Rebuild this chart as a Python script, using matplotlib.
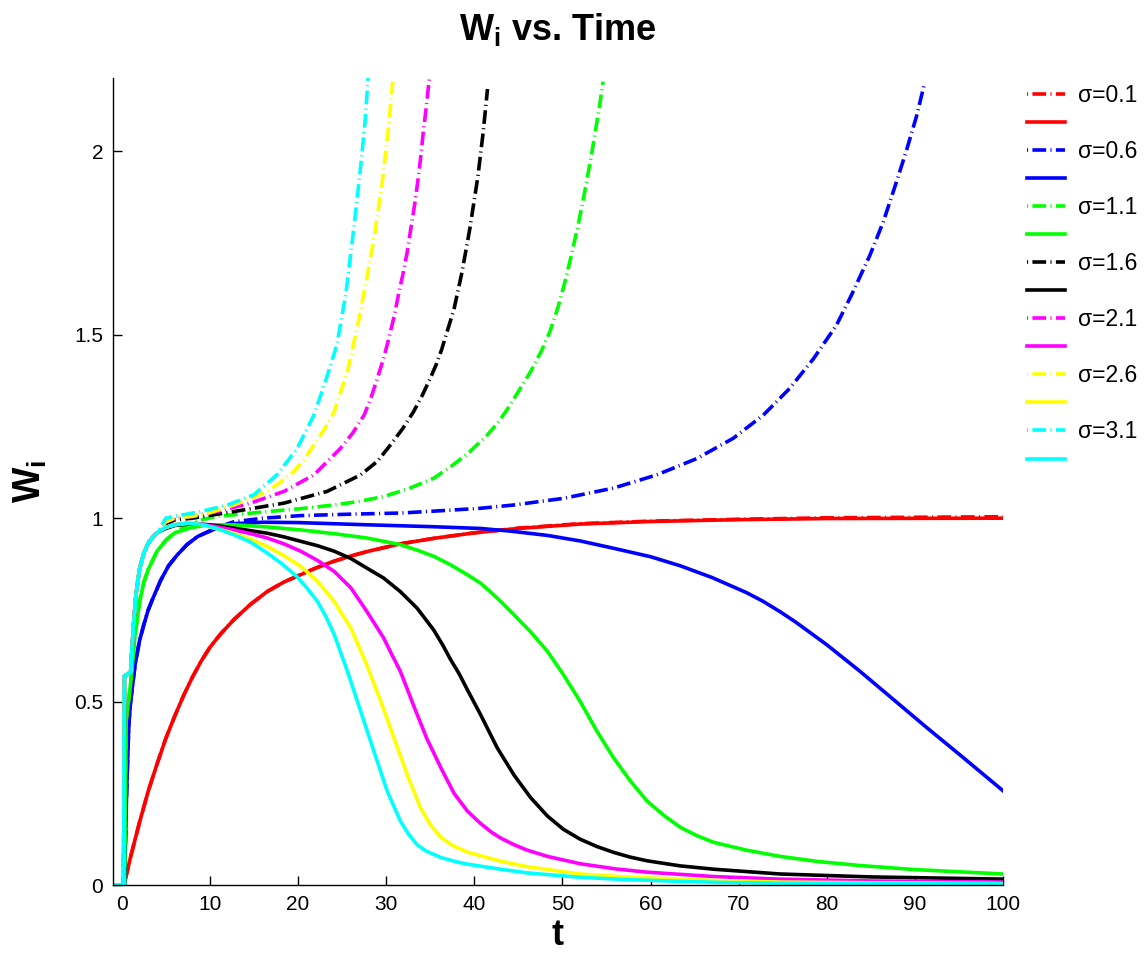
import matplotlib
matplotlib.use("Agg")
import matplotlib.pyplot as plt
import numpy as np

plt.rcParams['font.family'] = ['Liberation Sans', 'DejaVu Sans']
plt.rcParams['mathtext.fontset'] = 'custom'
plt.rcParams['mathtext.rm'] = 'Liberation Sans'
plt.rcParams['mathtext.bf'] = 'Liberation Sans:bold'
plt.rcParams['mathtext.it'] = 'Liberation Sans:italic'

# ---------------- data ----------------
sigmas = ["0.1", "0.6", "1.1", "1.6", "2.1", "2.6", "3.1"]
colors = ["#ff0000", "#0000ff", "#00ff00", "#000000", "#ff00ff", "#ffff00", "#00ffff"]

# shared initial rise
t_rise_fast = [-1, 0.2, 0.3, 1.0, 1.3, 1.6, 2.0, 2.5, 3.0, 3.5, 4.0]
w_rise_fast = [0, 0, 0.57, 0.58, 0.70, 0.79, 0.86, 0.905, 0.932, 0.948, 0.96]
t_rise_green = [-1, 0.3, 0.5, 1.0, 1.5, 2.0, 2.5, 3.0, 4.0, 5.0, 6.0]
w_rise_green = [0, 0, 0.45, 0.55, 0.68, 0.77, 0.825, 0.86, 0.91, 0.94, 0.96]
t_rise_blue = [-1, 0.3, 0.55, 0.8, 1.0, 1.5, 2.0, 2.5, 3.0, 3.5, 4.4, 5.3, 6.3, 7.4, 8.6]
w_rise_blue = [0, 0, 0.26, 0.44, 0.5, 0.6, 0.665, 0.71, 0.75, 0.78, 0.83, 0.87, 0.90, 0.928, 0.95]

# sigma = 0.1
t_red = [0.25, 1, 2, 3, 4, 5, 6, 7, 8, 9, 10, 11.2, 12.7, 14.6, 16.5, 18.4, 20.3, 22, 24, 26, 28, 31.6,
         35.4, 40, 45, 52, 60, 70, 80, 100]
w_red_solid = [0, 0.077, 0.17, 0.256, 0.33, 0.40, 0.46, 0.516, 0.566, 0.61, 0.648, 0.684, 0.723, 0.765,
               0.80, 0.826, 0.846, 0.864, 0.882, 0.897, 0.91, 0.93, 0.945, 0.96, 0.972, 0.984, 0.991, 0.996,
               0.999, 1.0]
w_red_dash = [0, 0.077, 0.17, 0.256, 0.33, 0.40, 0.46, 0.516, 0.566, 0.61, 0.648, 0.684, 0.723, 0.765,
              0.80, 0.826, 0.846, 0.864, 0.882, 0.897, 0.91, 0.93, 0.945, 0.96, 0.973, 0.985, 0.992, 0.997,
              1.001, 1.004]

# sigma = 0.6
t_blue_solid = [10.8, 12.7, 16, 20, 27.8, 35, 40.7, 44, 48.3, 52, 55.8, 60, 63.4, 67, 70.9, 72.8, 74.7,
                76.4, 78, 80, 83.8, 87.6, 91.3, 95.1, 100]
w_blue_solid = [0.973, 0.985, 0.989, 0.988, 0.982, 0.977, 0.972, 0.965, 0.953, 0.938, 0.918, 0.895, 0.87,
                0.838, 0.797, 0.773, 0.745, 0.718, 0.69, 0.655, 0.582, 0.505, 0.43, 0.355, 0.257]
t_blue_dash = [10.8, 12.7, 16, 20.3, 26, 31.6, 36, 40.7, 44.5, 50.1, 55.8, 60.7, 65.3, 69.4, 72.8, 75.8,
               78.5, 81.1, 82.8, 84.9, 86.4, 87.9, 89.1, 90.2, 91.1]
w_blue_dash = [0.975, 0.99, 1.0, 1.007, 1.011, 1.014, 1.02, 1.027, 1.036, 1.054, 1.082, 1.118, 1.163, 1.218,
               1.281, 1.354, 1.435, 1.526, 1.608, 1.717, 1.807, 1.916, 2.007, 2.097, 2.186]

# sigma = 1.1
t_green_solid = [8, 10, 12.7, 16.5, 20.3, 24, 27.8, 31.6, 33.5, 35.4, 37.3, 39.2, 40.7, 41.8, 43, 44.5,
                 46.4, 48.3, 50.1, 52, 53.9, 55.8, 57.7, 59.6, 61.5, 63.4, 65.3, 67.2, 70.9, 74.7, 79,
                 83.8, 90, 100]
w_green_solid = [0.975, 0.982, 0.982, 0.976, 0.968, 0.958, 0.946, 0.928, 0.913, 0.896, 0.873, 0.846, 0.823,
                 0.80, 0.773, 0.737, 0.69, 0.637, 0.574, 0.501, 0.42, 0.347, 0.284, 0.229, 0.19, 0.157,
                 0.134, 0.116, 0.095, 0.078, 0.064, 0.053, 0.042, 0.03]
t_green_dash = [8, 10.8, 16.5, 20.3, 24.1, 27, 29.7, 32.5, 35.4, 37.3, 39.2, 41.3, 42.6, 43.7, 45, 46.4,
                47.6, 48.6, 49.5, 50.3, 51.0, 51.7, 52.3, 52.8, 53.3, 53.7, 54.2, 54.6]
w_green_dash = [0.99, 1.005, 1.018, 1.026, 1.036, 1.046, 1.059, 1.08, 1.109, 1.14, 1.175, 1.222, 1.258, 1.295,
                1.345, 1.40, 1.455, 1.51, 1.575, 1.645, 1.715, 1.79, 1.86, 1.925, 1.99, 2.05, 2.12, 2.19]

# sigma = 1.6
t_black_solid = [5, 6, 8, 10, 12.7, 14.6, 16.5, 18.4, 20.3, 22.2, 24.1, 26, 27.8, 29.7, 31.6, 33.5, 35.4,
                 36.4, 37.3, 38.3, 39.2, 40.7, 42.6, 44.5, 46.4, 48.3, 50.1, 52, 53.9, 55.8, 57.7, 59.6,
                 63.4, 67.2, 74.7, 85, 100]
w_black_solid = [0.972, 0.98, 0.985, 0.982, 0.973, 0.966, 0.959, 0.949, 0.937, 0.925, 0.91, 0.89, 0.864,
                 0.837, 0.80, 0.755, 0.695, 0.655, 0.615, 0.575, 0.533, 0.465, 0.374, 0.30, 0.238, 0.188,
                 0.152, 0.125, 0.105, 0.089, 0.076, 0.066, 0.052, 0.043, 0.030, 0.022, 0.016]
t_black_dash = [5, 6, 8, 12.7, 18.4, 23.3, 27.1, 29, 30.5, 31.9, 33.1, 34.1, 35, 35.7, 36.3, 37.0, 37.7,
                38.6, 39.5, 40.4, 41.0, 41.5]
w_black_dash = [0.985, 0.995, 1.0, 1.018, 1.041, 1.073, 1.118, 1.155, 1.20, 1.245, 1.29, 1.335, 1.381, 1.42,
                1.46, 1.515, 1.57, 1.67, 1.79, 1.93, 2.05, 2.17]

# sigma = 2.1
t_mag_solid = [5, 6, 8, 10, 12.7, 14.6, 16.5, 18.4, 20.3, 22.2, 24.1, 26, 27.8, 28.7, 29.7, 30.6, 31.6,
               32.3, 33.1, 34.6, 35.4, 36.2, 37.7, 39.2, 40.7, 42, 43, 44.5, 46, 48.3, 52, 56, 59.6, 67.2,
               74.7, 85, 100]
w_mag_solid = [0.975, 0.982, 0.988, 0.98, 0.968, 0.958, 0.946, 0.93, 0.91, 0.885, 0.855, 0.81, 0.746, 0.712,
               0.674, 0.63, 0.583, 0.54, 0.49, 0.40, 0.36, 0.32, 0.25, 0.202, 0.168, 0.143, 0.128, 0.11,
               0.095, 0.078, 0.058, 0.044, 0.035, 0.023, 0.016, 0.011, 0.008]
t_mag_dash = [5, 6, 8, 10.8, 14.6, 18.4, 21.8, 24.8, 26.2, 27.5, 28.3, 29, 29.7, 30.3, 30.9, 31.4, 31.9,
              32.4, 32.8, 33.2, 33.6, 33.9, 34.2, 34.5, 34.9]
w_mag_dash = [0.99, 1.0, 1.005, 1.018, 1.041, 1.073, 1.118, 1.19, 1.232, 1.281, 1.33, 1.381, 1.435, 1.49,
              1.55, 1.61, 1.665, 1.727, 1.79, 1.85, 1.92, 1.98, 2.05, 2.11, 2.20]

# sigma = 2.6
t_yel_solid = [5, 6, 8, 10, 12.7, 14.6, 16.5, 18.4, 20.3, 22.2, 24.1, 26, 27.8, 29.4, 30.9, 32.4, 33.9,
               35, 36.2, 37.6, 39.2, 40.7, 43, 46, 52, 57, 63.4, 68, 74.7, 85, 100]
w_yel_solid = [0.975, 0.982, 0.988, 0.976, 0.959, 0.943, 0.923, 0.898, 0.869, 0.828, 0.773, 0.70, 0.60,
               0.50, 0.40, 0.30, 0.21, 0.165, 0.13, 0.107, 0.09, 0.08, 0.065, 0.05, 0.03, 0.022, 0.016,
               0.012, 0.008, 0.006, 0.004]
t_yel_dash = [5, 6, 8, 10, 12.7, 14.6, 16.5, 18, 19.5, 20.7, 21.8, 23, 24.1, 25.6, 26.7, 27.8, 28.8,
              29.6, 30.2, 30.75]
w_yel_dash = [0.99, 1.0, 1.005, 1.015, 1.036, 1.053, 1.073, 1.098, 1.127, 1.16, 1.20, 1.243, 1.29, 1.40,
              1.517, 1.653, 1.79, 1.925, 2.05, 2.19]

# sigma = 3.1
t_cyan_solid = [5, 6, 7.4, 9, 10.8, 12.7, 14.6, 16.5, 18.2, 19.9, 21, 22.2, 23.2, 24.1, 25.6, 27.1, 28.6,
                30.1, 31.6, 32.5, 33.5, 34.5, 36.2, 38, 39.2, 43, 46, 52, 57, 63.4, 68, 74.7, 85, 100]
w_cyan_solid = [0.975, 0.982, 0.986, 0.983, 0.972, 0.955, 0.935, 0.905, 0.875, 0.84, 0.81, 0.773, 0.73,
                0.683, 0.583, 0.474, 0.365, 0.257, 0.175, 0.14, 0.11, 0.093, 0.075, 0.063, 0.057, 0.043,
                0.033, 0.021, 0.015, 0.01, 0.007, 0.005, 0.004, 0.003]
t_cyan_dash = [5, 6, 8.95, 12, 15, 17.6, 19.9, 21.8, 23.1, 24.4, 25.4, 26.1, 26.7, 27.2, 27.6, 27.95]
w_cyan_dash = [1.0, 1.005, 1.018, 1.036, 1.064, 1.118, 1.19, 1.281, 1.372, 1.472, 1.608, 1.744, 1.87, 1.98,
               2.08, 2.2]

series = [
    (t_red, w_red_dash, t_red, w_red_solid),
    (t_rise_blue + t_blue_dash, w_rise_blue + w_blue_dash, t_rise_blue + t_blue_solid, w_rise_blue + w_blue_solid),
    (t_rise_green + t_green_dash, w_rise_green + w_green_dash,
     t_rise_green + t_green_solid, w_rise_green + w_green_solid),
    (t_rise_fast + t_black_dash, w_rise_fast + w_black_dash, t_rise_fast + t_black_solid, w_rise_fast + w_black_solid),
    (t_rise_fast + t_mag_dash, w_rise_fast + w_mag_dash, t_rise_fast + t_mag_solid, w_rise_fast + w_mag_solid),
    (t_rise_fast + t_yel_dash, w_rise_fast + w_yel_dash, t_rise_fast + t_yel_solid, w_rise_fast + w_yel_solid),
    (t_rise_fast + t_cyan_dash, w_rise_fast + w_cyan_dash, t_rise_fast + t_cyan_solid, w_rise_fast + w_cyan_solid),
]

# ---------------- figure ----------------
W, H = 1148, 955
fig = plt.figure(figsize=(W / 100, H / 100), dpi=100)
ax = fig.add_axes([113 / W, 1 - 885 / H, (1003 - 113) / W, (885 - 78) / H])

LW = 2.6
DASH = (3.8, 1.2, 0.3, 1.2)
handles, labels = [], []
for (s, c, (td, wd, ts, ws)) in zip(sigmas, colors, series):
    ld, = ax.plot(td, wd, color=c, lw=LW, linestyle=(5.0, DASH), dash_capstyle='butt',
                  solid_joinstyle='round')
    ls, = ax.plot(ts, ws, color=c, lw=LW, linestyle='-', solid_joinstyle='round')
    handles += [ld, ls]
    labels += ["\u03c3=" + s, ""]

ax.set_xlim(-1, 100)
ax.set_ylim(0, 2.2)
ax.set_xticks(np.arange(0, 101, 10))
ax.set_yticks([0, 0.5, 1, 1.5, 2])
ax.set_yticklabels(["0", "0.5", "1", "1.5", "2"])
for sp in ["top", "right"]:
    ax.spines[sp].set_visible(False)
for sp in ["left", "bottom"]:
    ax.spines[sp].set_linewidth(1.0)
ax.tick_params(direction='in', length=6.5, width=1.0, labelsize=15, pad=7)

ax.set_xlabel("t", fontsize=26, fontweight='bold', labelpad=3)
ax.set_ylabel(r"$\mathbf{W_i}$", fontsize=27, labelpad=18)
fig.text(0.486, 1 - 40 / H, r"$\mathbf{W_i}$" + " vs. Time", fontsize=26, fontweight='bold',
         ha='center', va='baseline')

leg = fig.legend(handles, labels, loc='upper left', bbox_to_anchor=(1027 / W, 1 - 84 / H),
                 frameon=False, fontsize=16.5, handlelength=1.66, handletextpad=0.57,
                 labelspacing=0.22, borderpad=0, borderaxespad=0)

fig.savefig("out.png", dpi=100)
